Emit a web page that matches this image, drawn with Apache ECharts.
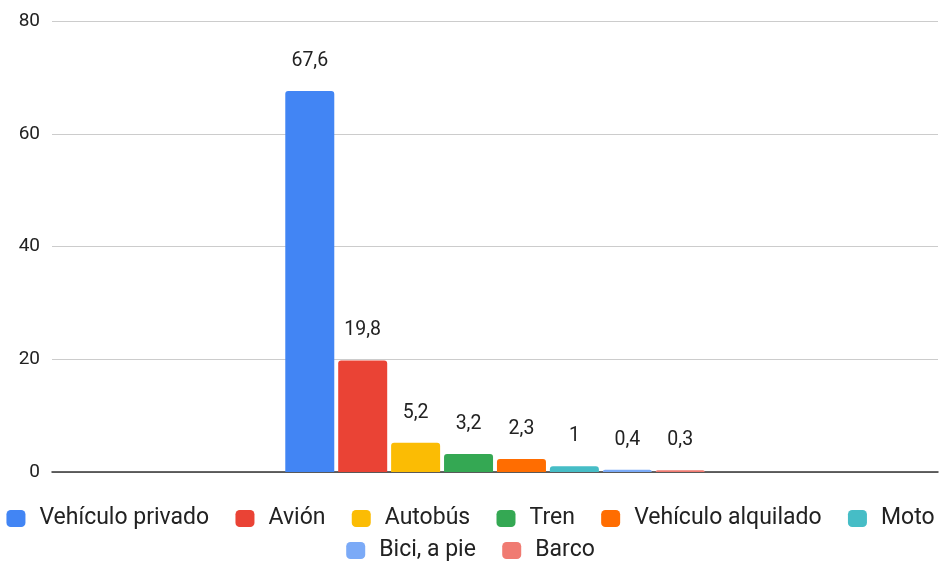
<!DOCTYPE html>
<html>
<head>
<meta charset="utf-8">
<script src="https://cdn.jsdelivr.net/npm/echarts@6/dist/echarts.min.js"></script>
<style>
  html, body { margin: 0; padding: 0; background: #fff; }
  #chart { width: 941px; height: 563px; }
</style>
</head>
<body>
<div id="chart"></div>
<script>
// datos del gráfico
var seriesNames = ['Vehículo privado', 'Avión', 'Autobús', 'Tren', 'Vehículo alquilado', 'Moto', 'Bici, a pie', 'Barco'];
var seriesValues = [67.6, 19.8, 5.2, 3.2, 2.3, 1, 0.4, 0.3];
var seriesColors = ['#4285F4', '#EA4335', '#FBBC04', '#34A853', '#FF6D01', '#46BDC6', '#7BAAF7', '#F07B72'];
var yTicks = [0, 20, 40, 60, 80];

var textColor = '#222';
var fontFam = 'Roboto, "Noto Sans", sans-serif';

var myChart = echarts.init(document.getElementById('chart'));

var series = seriesNames.map(function (name, i) {
  return {
    name: name,
    type: 'bar',
    data: [seriesValues[i]],
    barWidth: 49,
    barGap: '8%',
    itemStyle: { color: seriesColors[i], borderRadius: [3, 3, 0, 0] },
    label: {
      show: true,
      position: 'top',
      distance: 20,
      color: textColor,
      fontSize: 19.5,
      fontFamily: fontFam,
      formatter: function (p) { return String(p.value).replace('.', ','); }
    }
  };
});

var legendBase = {
  orient: 'horizontal',
  icon: 'roundRect',
  itemWidth: 19,
  itemHeight: 17,
  itemGap: 26.3,
  textStyle: { color: textColor, fontSize: 23, fontFamily: fontFam, padding: [0, 0, 0, 9] },
  padding: 0
};

var option = {
  backgroundColor: '#fff',
  animation: false,
  grid: { left: 52, right: 3, top: 21, bottom: 91 },
  legend: [
    Object.assign({}, legendBase, { data: seriesNames.slice(0, 6), left: 'center', top: 507 }),
    Object.assign({}, legendBase, { data: seriesNames.slice(6), left: 'center', top: 539 })
  ],
  xAxis: {
    type: 'category',
    data: [''],
    axisTick: { show: false },
    axisLabel: { show: false },
    axisLine: { lineStyle: { color: '#333', width: 1.5 } }
  },
  yAxis: {
    type: 'value',
    min: yTicks[0],
    max: yTicks[yTicks.length - 1],
    interval: 20,
    axisLine: { show: false },
    axisTick: { show: false },
    axisLabel: { color: textColor, fontSize: 19, fontFamily: fontFam, margin: 12 },
    splitLine: { lineStyle: { color: '#ccc' } }
  },
  series: series
};
myChart.setOption(option);
</script>
</body>
</html>
